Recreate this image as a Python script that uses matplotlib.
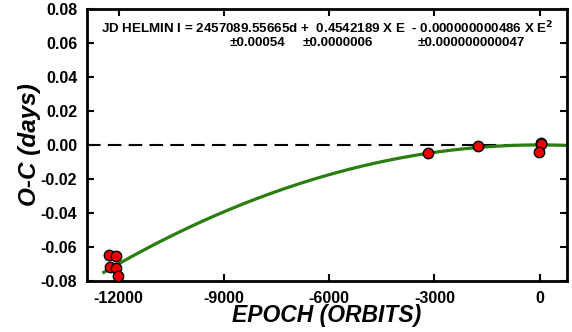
import matplotlib
matplotlib.use("Agg")
import matplotlib.pyplot as plt
import numpy as np

plt.rcParams['font.family'] = ['Liberation Sans', 'DejaVu Sans']

# O-C measurements (epoch, days)
epoch = [-12266, -12066, -12237, -12077, -12029, -3191, -1763, 20, 30, -20]
oc = [-0.0649, -0.0653, -0.0718, -0.0725, -0.0772, -0.0045, -0.0006, 0.0014, 0.0006, -0.0039]

# quadratic term of the fitted ephemeris
quad_coef = -0.000000000486
fit_range = (-12420, 800)

xticks = [-12000, -9000, -6000, -3000, 0]
yticks = [-0.08, -0.06, -0.04, -0.02, 0.00, 0.02, 0.04, 0.06, 0.08]

fig = plt.figure(figsize=(5.72, 3.32), dpi=100)
ax = fig.add_axes([0.152, 0.154, 0.839, 0.819])

ax.axhline(0, color="black", lw=1.5, ls=(0, (6.5, 3.5)), zorder=1)

E = np.linspace(fit_range[0], fit_range[1], 300)
ax.plot(E, quad_coef * E**2, color="#2a7d0e", lw=2.3, zorder=2)

ax.plot(epoch, oc, "o", ms=7.5, mfc="#ee0000", mec="black", mew=1.0, zorder=3)

ax.set_xlim(-12900, 770)
ax.set_ylim(-0.08, 0.08)
ax.set_xticks(xticks)
ax.set_yticks(yticks)
ax.set_xticklabels([str(t) for t in xticks], fontsize=11.5, fontweight="bold")
ax.set_yticklabels([f"{t:.2f}" for t in yticks], fontsize=11.5, fontweight="bold")
ax.tick_params(direction="in", length=5, width=1.5, top=True, right=True, pad=7)

for s in ax.spines.values():
    s.set_linewidth(2)

ax.set_xlabel("EPOCH (ORBITS)", fontsize=16.5, fontweight="bold", fontstyle="italic", labelpad=-1)
ax.set_ylabel("O-C (days)", fontsize=17.5, fontweight="bold", fontstyle="italic", labelpad=0)

ax.text(0.03, 0.93, r"JD HELMIN I = 2457089.55665d +  0.4542189 X E  - 0.000000000486 X E$^\mathbf{2}$",
        transform=ax.transAxes, fontsize=9.6, fontweight="bold", va="center", ha="left")
ax.text(0.298, 0.875, "±0.00054", transform=ax.transAxes, fontsize=9.6, fontweight="bold", va="center")
ax.text(0.45, 0.875, "±0.0000006", transform=ax.transAxes, fontsize=9.6, fontweight="bold", va="center")
ax.text(0.69, 0.875, "±0.000000000047", transform=ax.transAxes, fontsize=9.6, fontweight="bold", va="center")

fig.savefig("out.png", dpi=100)
